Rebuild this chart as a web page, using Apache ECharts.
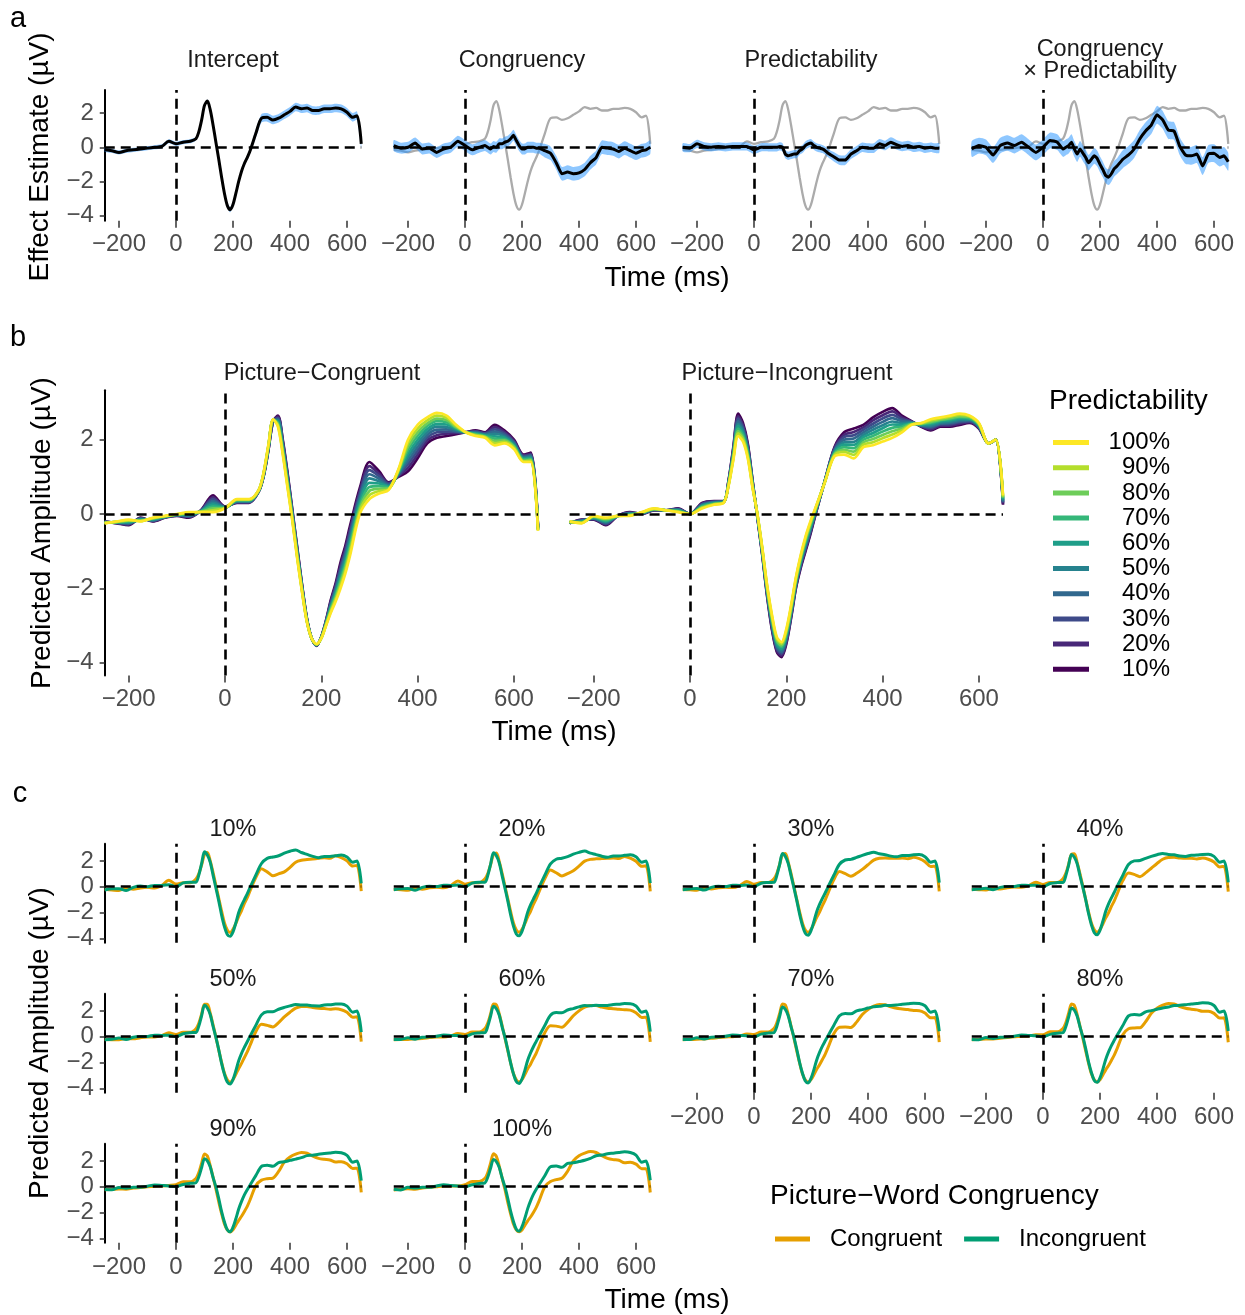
<!DOCTYPE html>
<html><head><meta charset="utf-8">
<script src="https://cdn.jsdelivr.net/npm/echarts@6/dist/echarts.min.js"></script>
<style>html,body{margin:0;padding:0;background:#fff}#c{width:1245px;height:1315px}</style>
</head><body><div id="c"></div>
<script>
// ---------------- DATA ----------------
const times = [-250,-225,-200,-175,-150,-125,-100,-75,-50,-25,0,25,50,70,80,90,100,110,120,130,140,150,160,170,180,190,200,210,220,230,240,250,260,280,300,320,340,360,380,400,420,440,460,480,500,520,540,560,580,600,620,635,650];
const xTicks = [-200,0,200,400,600];
const yTicks = [-4,-2,0,2];
const effectNames = ['Intercept','Congruency','Predictability','Congruency\n\u00d7 Predictability'];
const conditionNames = ['Picture\u2212Congruent','Picture\u2212Incongruent'];
const predLevels = ['10%','20%','30%','40%','50%','60%','70%','80%','90%','100%'];
const congruencyLevels = ['Congruent','Incongruent'];

// Panel a: effect estimates and 95% CI half-widths
const intercept = [-0.15,-0.2,-0.3,-0.2,-0.15,-0.1,-0.05,0.0,0.05,0.35, 0.2,0.3,0.35,0.5,0.9,1.6,2.45,2.7,2.2,1.3, 0.3,-0.7,-1.75,-2.7,-3.4,-3.65,-3.35,-2.7,-2.0,-1.4, -0.95,-0.6,-0.2,0.8,1.7,1.75,1.6,1.7,1.9,2.1, 2.35,2.25,2.3,2.15,2.15,2.25,2.25,2.3,2.25,2.05, 1.75,1.85,0.2];
const interceptCI = [0.12,0.12,0.12,0.12,0.12,0.12,0.12,0.12,0.12,0.12, 0.12,0.12,0.12,0.1,0.1,0.1,0.1,0.1,0.1,0.1, 0.1,0.1,0.1,0.1,0.15,0.15,0.15,0.15,0.15,0.15, 0.15,0.15,0.15,0.25,0.25,0.25,0.25,0.25,0.25,0.25, 0.25,0.25,0.25,0.25,0.25,0.25,0.25,0.25,0.25,0.25, 0.25,0.25,0.25];
const congruency = [0.1,-0.05,0.0,0.25,-0.1,-0.05,-0.3,-0.1,0.0,0.35, 0.1,-0.15,0.0,0.1,0.0,-0.1,0.05,0.0,0.2,0.2, 0.3,0.35,0.5,0.7,0.4,0.1,-0.1,-0.1,0.0,0.0, 0.0,-0.05,-0.05,-0.2,-0.35,-0.9,-1.55,-1.45,-1.55,-1.5, -1.3,-0.9,-0.6,0.0,-0.05,-0.1,-0.25,-0.05,-0.2,-0.35, -0.2,-0.15,0.0];
const congruencyCI = [0.32,0.32,0.32,0.32,0.32,0.32,0.32,0.32,0.32,0.32, 0.32,0.32,0.32,0.32,0.32,0.32,0.32,0.32,0.32,0.32, 0.32,0.32,0.32,0.32,0.32,0.32,0.32,0.32,0.32,0.32, 0.32,0.32,0.32,0.4,0.4,0.4,0.4,0.4,0.4,0.4, 0.4,0.4,0.4,0.4,0.4,0.4,0.4,0.4,0.4,0.4, 0.4,0.4,0.4];
const predictability = [0.0,-0.05,0.2,0.05,0.0,0.05,0.0,0.05,0.05,0.05, -0.15,0.0,0.0,0.0,0.0,0.05,0.0,-0.4,-0.5,-0.45, -0.4,-0.4,-0.2,-0.1,0.1,0.2,0.25,0.1,0.0,-0.05, -0.1,-0.2,-0.35,-0.55,-0.75,-0.75,-0.4,-0.2,0.0,-0.05, -0.05,0.2,0.1,0.3,0.15,0.05,0.1,0.0,0.05,-0.05, 0.0,-0.05,-0.05];
const predictabilityCI = [0.24,0.24,0.24,0.24,0.24,0.24,0.24,0.24,0.24,0.24, 0.24,0.24,0.24,0.24,0.24,0.24,0.24,0.24,0.24,0.24, 0.24,0.24,0.24,0.24,0.24,0.24,0.24,0.24,0.24,0.24, 0.24,0.24,0.24,0.28,0.28,0.28,0.28,0.28,0.28,0.28, 0.28,0.28,0.28,0.28,0.28,0.28,0.28,0.28,0.28,0.28, 0.28,0.28,0.28];
const interaction = [-0.1,0.1,0.0,-0.45,0.1,0.25,0.1,0.3,0.0,-0.3, 0.0,0.4,0.3,-0.1,0.0,0.1,0.3,-0.1,-0.4,-0.1, -0.35,-0.6,-0.9,-0.7,-0.5,-0.65,-1.0,-1.3,-1.65,-1.75, -1.55,-1.25,-1.1,-0.7,-0.45,-0.1,0.5,0.95,1.3,1.9, 1.6,1.0,0.95,0.05,-0.45,-0.5,-0.4,-1.1,-0.4,-0.35, -0.6,-0.5,-0.85];
const interactionCI = [0.46,0.46,0.46,0.46,0.46,0.46,0.46,0.46,0.46,0.46, 0.46,0.46,0.46,0.46,0.46,0.46,0.46,0.46,0.46,0.46, 0.46,0.46,0.46,0.46,0.46,0.46,0.46,0.46,0.46,0.46, 0.46,0.46,0.46,0.52,0.52,0.52,0.52,0.52,0.52,0.52, 0.52,0.52,0.52,0.52,0.52,0.52,0.52,0.52,0.52,0.52, 0.52,0.52,0.52];

// Panels b/c: predicted amplitude, Picture-Congruent, by predictability
const cong10 = [-0.2,-0.25,-0.3,-0.1,-0.2,-0.1,-0.05,-0.1,0.1,0.5, 0.2,0.3,0.3,0.6,1.0,1.7,2.5,2.65,2.0,1.1, 0.1,-0.9,-1.9,-2.8,-3.35,-3.55,-3.3,-2.85,-2.3,-1.85, -1.3,-0.85,-0.3,0.7,1.4,1.15,0.85,1.0,1.15,1.5, 1.9,2.05,2.1,2.15,2.2,2.25,2.2,2.4,2.25,2.0, 1.6,1.65,-0.35];
const cong20 = [-0.21,-0.24,-0.28,-0.11,-0.19,-0.09,-0.04,-0.08,0.09,0.45, 0.19,0.31,0.31,0.61,1.01,1.72,2.51,2.62,1.96,1.06, 0.07,-0.93,-1.92,-2.81,-3.35,-3.54,-3.31,-2.87,-2.34,-1.91, -1.38,-0.93,-0.39,0.62,1.29,1.08,0.83,1.02,1.24,1.6, 1.98,2.12,2.16,2.18,2.2,2.23,2.18,2.34,2.21,1.97, 1.58,1.62,-0.36];
const cong30 = [-0.21,-0.24,-0.27,-0.12,-0.18,-0.09,-0.04,-0.07,0.09,0.4, 0.19,0.32,0.32,0.61,1.02,1.73,2.51,2.58,1.91,1.01, 0.03,-0.97,-1.94,-2.82,-3.35,-3.54,-3.31,-2.88,-2.38,-1.96, -1.46,-1.02,-0.48,0.54,1.18,1.02,0.81,1.04,1.34,1.7, 2.06,2.2,2.22,2.21,2.2,2.22,2.17,2.28,2.17,1.94, 1.56,1.59,-0.37];
const cong40 = [-0.22,-0.23,-0.25,-0.13,-0.17,-0.08,-0.03,-0.05,0.08,0.35, 0.18,0.33,0.33,0.62,1.03,1.75,2.52,2.55,1.87,0.97, 0.0,-1.0,-1.97,-2.83,-3.35,-3.53,-3.32,-2.9,-2.42,-2.02, -1.53,-1.1,-0.57,0.47,1.07,0.95,0.78,1.07,1.43,1.8, 2.13,2.27,2.28,2.23,2.2,2.2,2.15,2.22,2.13,1.92, 1.53,1.57,-0.38];
const cong50 = [-0.22,-0.23,-0.23,-0.14,-0.16,-0.08,-0.03,-0.03,0.08,0.3, 0.18,0.34,0.34,0.62,1.04,1.77,2.52,2.52,1.82,0.92, -0.03,-1.03,-1.99,-2.84,-3.35,-3.53,-3.32,-2.92,-2.46,-2.07, -1.61,-1.18,-0.66,0.39,0.96,0.88,0.76,1.09,1.53,1.9, 2.21,2.35,2.34,2.26,2.2,2.18,2.13,2.16,2.09,1.89, 1.51,1.54,-0.39];
const cong60 = [-0.23,-0.22,-0.22,-0.16,-0.14,-0.07,-0.02,-0.02,0.07,0.25, 0.17,0.36,0.36,0.63,1.06,1.78,2.53,2.48,1.78,0.88, -0.07,-1.07,-2.01,-2.86,-3.35,-3.52,-3.33,-2.93,-2.49,-2.13, -1.69,-1.27,-0.74,0.31,0.84,0.82,0.74,1.11,1.62,2.0, 2.29,2.42,2.41,2.29,2.2,2.17,2.12,2.09,2.06,1.86, 1.49,1.51,-0.41];
const cong70 = [-0.23,-0.22,-0.2,-0.17,-0.13,-0.07,-0.02,0.0,0.07,0.2, 0.17,0.37,0.37,0.63,1.07,1.8,2.53,2.45,1.73,0.83, -0.1,-1.1,-2.03,-2.87,-3.35,-3.52,-3.33,-2.95,-2.53,-2.18, -1.77,-1.35,-0.83,0.23,0.73,0.75,0.72,1.13,1.72,2.1, 2.37,2.5,2.47,2.32,2.2,2.15,2.1,2.03,2.02,1.83, 1.47,1.48,-0.42];
const cong80 = [-0.24,-0.21,-0.18,-0.18,-0.12,-0.06,-0.01,0.02,0.06,0.15, 0.16,0.38,0.38,0.64,1.08,1.82,2.54,2.42,1.69,0.79, -0.13,-1.13,-2.06,-2.88,-3.35,-3.51,-3.34,-2.97,-2.57,-2.24, -1.84,-1.43,-0.92,0.16,0.62,0.68,0.69,1.16,1.81,2.2, 2.44,2.57,2.53,2.34,2.2,2.13,2.08,1.97,1.98,1.81, 1.44,1.46,-0.43];
const cong90 = [-0.24,-0.21,-0.17,-0.19,-0.11,-0.06,-0.01,0.03,0.06,0.1, 0.16,0.39,0.39,0.64,1.09,1.83,2.54,2.38,1.64,0.74, -0.17,-1.17,-2.08,-2.89,-3.35,-3.51,-3.34,-2.98,-2.61,-2.29, -1.92,-1.52,-1.01,0.08,0.51,0.62,0.67,1.18,1.91,2.3, 2.52,2.65,2.59,2.37,2.2,2.12,2.07,1.91,1.94,1.78, 1.42,1.43,-0.44];
const cong100 = [-0.25,-0.2,-0.15,-0.2,-0.1,-0.05,0.0,0.05,0.05,0.05, 0.15,0.4,0.4,0.65,1.1,1.85,2.55,2.35,1.6,0.7, -0.2,-1.2,-2.1,-2.9,-3.35,-3.5,-3.35,-3.0,-2.65,-2.35, -2.0,-1.6,-1.1,0.0,0.4,0.55,0.65,1.2,2.0,2.4, 2.6,2.72,2.65,2.4,2.2,2.1,2.05,1.85,1.9,1.75, 1.4,1.4,-0.45];

// Picture-Incongruent, by predictability
const incong10 = [-0.25,-0.15,-0.15,-0.3,-0.05,0.05,0.0,0.1,0.1,0.15, 0.0,0.3,0.35,0.35,0.9,1.8,2.7,2.45,1.9,0.9, -0.1,-1.1,-2.2,-3.1,-3.7,-3.85,-3.5,-2.8,-2.0,-1.45, -1.0,-0.55,-0.05,0.9,1.8,2.2,2.3,2.4,2.6,2.75, 2.85,2.65,2.5,2.35,2.25,2.35,2.35,2.4,2.45,2.3, 1.9,2.0,0.25];
const incong20 = [-0.24,-0.16,-0.14,-0.28,-0.05,0.04,0.01,0.11,0.1,0.14, 0.0,0.28,0.34,0.34,0.88,1.76,2.63,2.39,1.86,0.88, -0.09,-1.08,-2.17,-3.06,-3.66,-3.81,-3.46,-2.76,-1.97,-1.41, -0.96,-0.51,-0.03,0.89,1.77,2.13,2.21,2.33,2.52,2.66, 2.76,2.6,2.49,2.36,2.28,2.38,2.38,2.43,2.47,2.32, 1.9,2.0,0.28];
const incong30 = [-0.24,-0.17,-0.13,-0.26,-0.05,0.03,0.01,0.11,0.1,0.13, 0.0,0.27,0.33,0.34,0.87,1.72,2.57,2.34,1.81,0.86, -0.08,-1.06,-2.13,-3.01,-3.61,-3.76,-3.41,-2.72,-1.93,-1.37, -0.91,-0.47,-0.01,0.89,1.74,2.07,2.12,2.27,2.43,2.57, 2.67,2.55,2.48,2.37,2.32,2.41,2.42,2.47,2.49,2.33, 1.9,2.0,0.31];
const incong40 = [-0.23,-0.18,-0.12,-0.23,-0.05,0.02,0.02,0.12,0.1,0.12, 0.0,0.25,0.32,0.33,0.85,1.68,2.5,2.28,1.77,0.83, -0.07,-1.03,-2.1,-2.97,-3.57,-3.72,-3.37,-2.68,-1.9,-1.33, -0.87,-0.43,0.02,0.88,1.72,2.0,2.03,2.2,2.35,2.48, 2.58,2.5,2.47,2.38,2.35,2.43,2.45,2.5,2.52,2.35, 1.9,2.0,0.33];
const incong50 = [-0.23,-0.19,-0.11,-0.21,-0.05,0.01,0.02,0.12,0.1,0.11, 0.0,0.23,0.31,0.33,0.83,1.64,2.43,2.23,1.72,0.81, -0.06,-1.01,-2.07,-2.92,-3.52,-3.67,-3.32,-2.64,-1.87,-1.29, -0.82,-0.39,0.04,0.88,1.69,1.93,1.94,2.13,2.27,2.39, 2.49,2.45,2.46,2.39,2.38,2.46,2.48,2.53,2.54,2.37, 1.9,2.0,0.36];
const incong60 = [-0.22,-0.21,-0.09,-0.19,-0.05,-0.01,0.03,0.13,0.1,0.09, 0.0,0.22,0.29,0.32,0.82,1.61,2.37,2.17,1.68,0.79, -0.04,-0.99,-2.03,-2.88,-3.48,-3.63,-3.28,-2.61,-1.83,-1.26, -0.78,-0.36,0.06,0.87,1.66,1.87,1.86,2.07,2.18,2.31, 2.41,2.4,2.44,2.41,2.42,2.49,2.52,2.57,2.56,2.38, 1.9,2.0,0.39];
const incong70 = [-0.22,-0.22,-0.08,-0.17,-0.05,-0.02,0.03,0.13,0.1,0.08, 0.0,0.2,0.28,0.32,0.8,1.57,2.3,2.12,1.63,0.77, -0.03,-0.97,-2.0,-2.83,-3.43,-3.58,-3.23,-2.57,-1.8,-1.22, -0.73,-0.32,0.08,0.87,1.63,1.8,1.77,2.0,2.1,2.22, 2.32,2.35,2.43,2.42,2.45,2.52,2.55,2.6,2.58,2.4, 1.9,2.0,0.42];
const incong80 = [-0.21,-0.23,-0.07,-0.14,-0.05,-0.03,0.04,0.14,0.1,0.07, 0.0,0.18,0.27,0.31,0.78,1.53,2.23,2.06,1.59,0.74, -0.02,-0.94,-1.97,-2.79,-3.39,-3.54,-3.19,-2.53,-1.77,-1.18, -0.69,-0.28,0.11,0.86,1.61,1.73,1.68,1.93,2.02,2.13, 2.23,2.3,2.42,2.43,2.48,2.54,2.58,2.63,2.61,2.42, 1.9,2.0,0.44];
const incong90 = [-0.21,-0.24,-0.06,-0.12,-0.05,-0.04,0.04,0.14,0.1,0.06, 0.0,0.17,0.26,0.31,0.77,1.49,2.17,2.01,1.54,0.72, -0.01,-0.92,-1.93,-2.74,-3.34,-3.49,-3.14,-2.49,-1.73,-1.14, -0.64,-0.24,0.13,0.86,1.58,1.67,1.59,1.87,1.93,2.04, 2.14,2.25,2.41,2.44,2.52,2.57,2.62,2.67,2.63,2.43, 1.9,2.0,0.47];
const incong100 = [-0.2,-0.25,-0.05,-0.1,-0.05,-0.05,0.05,0.15,0.1,0.05, 0.0,0.15,0.25,0.3,0.75,1.45,2.1,1.95,1.5,0.7, 0.0,-0.9,-1.9,-2.7,-3.3,-3.45,-3.1,-2.45,-1.7,-1.1, -0.6,-0.2,0.15,0.85,1.55,1.6,1.5,1.8,1.85,1.95, 2.05,2.2,2.4,2.45,2.55,2.6,2.65,2.7,2.65,2.45, 1.9,2.0,0.5];

// ---------------- STYLE / LAYOUT ----------------
const congLevels = [cong10,cong20,cong30,cong40,cong50,cong60,cong70,cong80,cong90,cong100];
const incongLevels = [incong10,incong20,incong30,incong40,incong50,incong60,incong70,incong80,incong90,incong100];
const effects = [[intercept,interceptCI],[congruency,congruencyCI],[predictability,predictabilityCI],[interaction,interactionCI]];
const viridis = ['#440154','#482878','#3E4A89','#31688E','#26828E','#1F9E89','#35B779','#6DCD59','#B4DE2C','#FDE725'];
const ORANGE = '#E69F00', GREEN = '#009E73', RIBBON = 'rgba(30,144,255,0.5)', GRAY = '#ABABAB';
const FONT = '"Liberation Sans", Arial, Helvetica, sans-serif';
const fmt = v => (v < 0 ? '\u2212' + Math.abs(v) : String(v));

const grids = [], xAxes = [], yAxes = [], series = [], graphics = [];

function addGrid(left, top, width, height, ymin, ymax, showX, showY, xMargin) {
  const gi = grids.length;
  grids.push({left, top, width, height, containLabel: false});
  xAxes.push({gridIndex: gi, type: 'value', min: -250, max: 650,
    axisLine: {show: false, onZero: false}, splitLine: {show: false},
    axisTick: {show: showX, length: 7, customValues: xTicks, lineStyle: {color: '#333333', width: 1.5}},
    axisLabel: {show: showX, customValues: xTicks, margin: xMargin, color: '#4D4D4D', fontSize: 24, fontFamily: FONT, formatter: fmt}});
  yAxes.push({gridIndex: gi, type: 'value', min: ymin, max: ymax, splitLine: {show: false},
    axisLine: {show: showY, onZero: false, lineStyle: {color: '#000', width: 2}},
    axisTick: {show: showY, length: 5, customValues: yTicks, lineStyle: {color: '#333333', width: 1.5}},
    axisLabel: {show: showY, customValues: yTicks, margin: 11, color: '#4D4D4D', fontSize: 24, fontFamily: FONT, formatter: fmt}});
  return gi;
}
function lineSeries(gi, ys, color, width, z, name, smooth) {
  return {type: 'line', name, xAxisIndex: gi, yAxisIndex: gi, data: times.map((t, i) => [t, ys[i]]),
    symbol: 'none', showSymbol: false, smooth: smooth, silent: true, z: z,
    lineStyle: {color, width}, itemStyle: {color}, emphasis: {disabled: true}};
}
function ribbonSeries(gi, mean, ci) {
  return {type: 'custom', xAxisIndex: gi, yAxisIndex: gi, data: [[0, 0]], silent: true, z: 2,
    renderItem: (params, api) => {
      const pts = [];
      for (let i = 0; i < times.length; i++) pts.push(api.coord([times[i], mean[i] + ci[i]]));
      for (let i = times.length - 1; i >= 0; i--) pts.push(api.coord([times[i], mean[i] - ci[i]]));
      return {type: 'polygon', shape: {points: pts, smooth: 0.2}, style: {fill: RIBBON}};
    }};
}
function refLines(gi) {
  return {type: 'line', xAxisIndex: gi, yAxisIndex: gi, data: [[0, 0]], symbol: 'none', silent: true, z: 10,
    lineStyle: {opacity: 0},
    markLine: {silent: true, symbol: ['none', 'none'], label: {show: false}, animation: false,
      lineStyle: {color: '#000', type: [10, 6], width: 2.6},
      data: [{xAxis: 0}, {yAxis: 0}]}};
}
function text(x, y, str, size, color, opts, lh) {
  graphics.push(Object.assign({type: 'text', x, y, silent: true,
    style: {text: str, fontSize: size, fontFamily: FONT, fill: color,
      align: 'center', verticalAlign: 'middle', textAlign: 'center', textVerticalAlign: 'middle', lineHeight: lh || size}}, opts || {}));
}

// ---- panel a ----
const colLefts = [104.75, 393.75, 682.75, 971.75], colW = 256.5;
effects.forEach((e, j) => {
  const gi = addGrid(colLefts[j], 90, colW, 130.8, -4.3, 3.35, true, j === 0, 12);
  if (j > 0) series.push(lineSeries(gi, intercept, GRAY, 2.3, 1, 'InterceptRef', 0.3));
  series.push(ribbonSeries(gi, e[0], e[1]));
  series.push(lineSeries(gi, e[0], '#000', 3, 3, 'Effect', j === 0 ? 0.3 : 0.15));
  series.push(refLines(gi));
  text(colLefts[j] + colW / 2, 61, effectNames[j], 23.5, '#1A1A1A', null, 22);
});

// ---- panel b ----
const bLefts = [104.6, 569.6], bW = 433.4;
[congLevels, incongLevels].forEach((levels, j) => {
  const gi = addGrid(bLefts[j], 390.3, bW, 285.3, -4.35, 3.33, true, j === 0, 11.5);
  levels.forEach((ys, k) => series.push(lineSeries(gi, ys, viridis[k], 2.7, 3, predLevels[k], 0.3)));
  series.push(refLines(gi));
  text(bLefts[j] + 250 * bW / 900 + 97, 374, conditionNames[j], 23.5, '#1A1A1A');
});

// ---- panel c ----
const rowZero = [886.7, 1036.7, 1186.7], cPxPerUV = 12.9;
predLevels.forEach((lab, k) => {
  const r = Math.floor(k / 4), c = k % 4;
  const showX = (r === 2) || (r === 1 && c >= 2);
  const top = rowZero[r] - 3.33 * cPxPerUV;
  const gi = addGrid(colLefts[c], top, colW, 7.68 * cPxPerUV, -4.35, 3.33, showX, c === 0, 13);
  series.push(lineSeries(gi, congLevels[k], ORANGE, 3, 3, congruencyLevels[0], 0.3));
  series.push(lineSeries(gi, incongLevels[k], GREEN, 3, 4, congruencyLevels[1], 0.3));
  series.push(refLines(gi));
  text(colLefts[c] + colW / 2, 830 + 150 * r, lab, 23.5, '#1A1A1A');
});

// ---- labels, axis titles ----
text(18, 19, 'a', 29, '#000');
text(18, 338, 'b', 29, '#000');
text(20, 794, 'c', 29, '#000');
text(667, 278, 'Time (ms)', 28, '#000');
text(554, 732, 'Time (ms)', 28, '#000');
text(667, 1300, 'Time (ms)', 28, '#000');
text(40, 157, 'Effect Estimate (\u00b5V)', 28, '#000', {rotation: Math.PI / 2});
text(42, 533, 'Predicted Amplitude (\u00b5V)', 28, '#000', {rotation: Math.PI / 2});
text(40, 1043, 'Predicted Amplitude (\u00b5V)', 28, '#000', {rotation: Math.PI / 2});
graphics.push({type: 'text', x: 1049, y: 401, silent: true, style: {text: 'Predictability', fontSize: 28, fontFamily: FONT, fill: '#000', align: 'left', verticalAlign: 'middle', textAlign: 'left', textVerticalAlign: 'middle'}});
graphics.push({type: 'text', x: 770, y: 1196, silent: true, style: {text: 'Picture\u2212Word Congruency', fontSize: 28, fontFamily: FONT, fill: '#000', align: 'left', verticalAlign: 'middle', textAlign: 'left', textVerticalAlign: 'middle'}});

const option = {
  animation: false,
  backgroundColor: '#fff',
  textStyle: {fontFamily: FONT},
  grid: grids, xAxis: xAxes, yAxis: yAxes, series,
  legend: [
    {data: predLevels.slice().reverse(), orient: 'vertical', left: 1048, top: 425, itemWidth: 36, itemHeight: 5,
     itemGap: 0.2, icon: 'rect', selectedMode: false,
     formatter: n => '{p|' + n + '}',
     textStyle: {fontSize: 24, fontFamily: FONT, color: '#000', lineHeight: 25,
       rich: {p: {width: 76, align: 'right', fontSize: 24, fontFamily: FONT, color: '#000', lineHeight: 25}}}},
    {data: congruencyLevels, orient: 'horizontal', left: 770, top: 1221.5, itemWidth: 35, itemHeight: 5,
     itemGap: 22, icon: 'rect', selectedMode: false,
     formatter: n => '{g| }{t|' + n + '}',
     textStyle: {fontSize: 24, fontFamily: FONT, color: '#000', lineHeight: 25,
       rich: {g: {width: 15, fontSize: 24}, t: {fontSize: 24, fontFamily: FONT, color: '#000', lineHeight: 25}}}}
  ],
  graphic: {elements: graphics}
};
const chart = echarts.init(document.getElementById('c'), null, {renderer: 'canvas', width: 1245, height: 1315});
chart.setOption(option);
</script>
</body></html>
